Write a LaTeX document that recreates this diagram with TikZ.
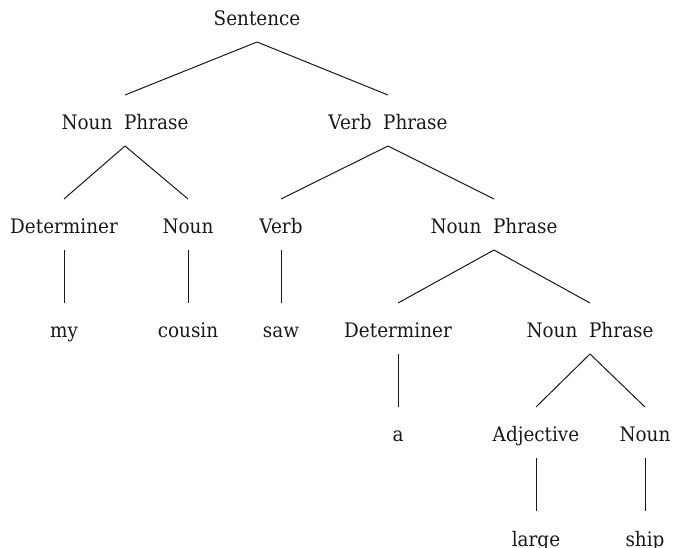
\documentclass[tikz,border=0pt]{standalone}
\usepackage{fontspec}
\setmainfont[FakeStretch=0.92]{DejaVu Serif}
\begin{document}
\begin{tikzpicture}[x=1pt,y=-1pt,
  lbl/.style={anchor=base,inner sep=0pt,text=black!90,font=\fontsize{20}{24}\selectfont},
  edge/.style={draw=black!90,line width=1pt}]
\useasboundingbox (0,0) rectangle (673,548);
\def\up{35}\def\dn{16}
\node[lbl] (S)   at (257,26) {Sentence};
\node[lbl] (NP1) at (125,130) {Noun\ \ Phrase};
\node[lbl] (VP)  at (388,130) {Verb\ \ Phrase};
\node[lbl] (D1)  at (64,234) {Determiner};
\node[lbl] (N1)  at (188,234) {Noun};
\node[lbl] (V)   at (281,234) {Verb};
\node[lbl] (NP2) at (494,234) {Noun\ \ Phrase};
\node[lbl] (my)  at (64,338) {my};
\node[lbl] (cousin) at (188,338) {cousin};
\node[lbl] (saw) at (281,338) {saw};
\node[lbl] (D2)  at (398,338) {Determiner};
\node[lbl] (NP3) at (590,338) {Noun\ \ Phrase};
\node[lbl] (a)   at (398,442) {a};
\node[lbl] (Adj) at (536,442) {Adjective};
\node[lbl] (N2)  at (645,442) {Noun};
\node[lbl] (large) at (536,546) {large};
\node[lbl] (ship)  at (645,546) {ship};
\foreach \p/\c in {S/NP1,S/VP,NP1/D1,NP1/N1,VP/V,VP/NP2,D1/my,N1/cousin,V/saw,NP2/D2,NP2/NP3,D2/a,NP3/Adj,NP3/N2,Adj/large,N2/ship}
  \draw[edge] ([yshift=-\dn pt]\p.base) -- ([yshift=\up pt]\c.base);
\end{tikzpicture}
\end{document}
